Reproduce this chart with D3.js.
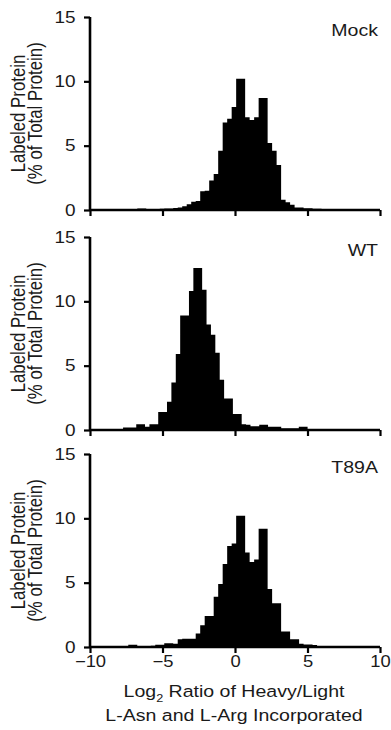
<!DOCTYPE html>
<html>
<head>
<meta charset="utf-8">
<script src="https://cdn.jsdelivr.net/npm/d3@7"></script>
<style>
  html, body { margin: 0; padding: 0; background: #fff; }
  svg { display: block; font-family: "Liberation Sans", Arial, sans-serif; }
</style>
</head>
<body>
<div class="chart"></div>
<script>
// ----------------------------------
// DATA
// ----------------------------------

// panel names, top to bottom
const panelNames = ['Mock', 'WT', 'T89A'];

// left edge of the first bin and bin width, in log2 units
const binStarts = [-7.98, -7.72, -7.98];
const binWidths = [0.31, 0.303, 0.31];

// % of total protein per bin
const mockValues = [0.03, 0.03, 0.05, 0.05, 0.12, 0.12, 0.05, 0.05, 0.08, 0.1,
  0.12, 0.12, 0.15, 0.2, 0.3, 0.45, 0.65, 0.7, 1.45, 1.5,
  2.3, 2.8, 4.6, 6.8, 7.1, 8.0, 10.2, 10.2, 7.2, 7.0,
  7.2, 8.7, 8.7, 5.2, 4.6, 3.5, 0.8, 0.6, 0.4, 0.2,
  0.2, 0.13, 0.13, 0.1, 0.1, 0.05, 0.05, 0.05, 0.03, 0.03];

const wtValues = [0.2, 0.2, 0.2, 0.45, 0.45, 0.25, 0.45, 0.45, 1.4, 1.4,
  2.2, 3.7, 5.9, 8.9, 8.9, 10.8, 12.6, 12.6, 10.9, 8.2,
  7.4, 6.0, 3.9, 2.45, 2.45, 1.25, 1.25, 0.45, 0.4, 0.3,
  0.3, 0.4, 0.4, 0.25, 0.25, 0.25, 0.13, 0.13, 0.13, 0.13,
  0.25, 0.25, 0.05, 0.05, 0.03, 0.03, 0.03];

const t89aValues = [0.03, 0.05, 0.18, 0.18, 0.05, 0.05, 0.05, 0.1, 0.18, 0.18,
  0.3, 0.3, 0.25, 0.6, 0.65, 0.65, 0.65, 1.05, 1.7, 2.4,
  2.4, 3.9, 4.9, 6.45, 7.85, 8.05, 10.2, 10.2, 7.35, 6.6,
  6.8, 9.2, 9.2, 4.5, 3.4, 3.4, 1.2, 1.2, 0.6, 0.6,
  0.25, 0.2, 0.2, 0.15, 0.05, 0.05, 0.05, 0.03, 0.03, 0.03];

const panelValues = [mockValues, wtValues, t89aValues];

// axis ticks
const xTicks = [-10, -5, 0, 5, 10];
const yTicks = [0, 5, 10, 15];
const xDomain = [-10, 10];
const yDomain = [0, 15];

// ----------------------------------
// LAYOUT
// ----------------------------------

const width = 391,
      height = 730,
      xLeft = 90,
      xRight = 380,
      panelTops = [17, 237, 454],
      panelHeight = 193,
      stretch = 1.15,   // the figure's type is a little wider than Arial
      ink = '#1a1a1a';

const svg = d3.select('.chart')
  .append('svg')
  .attr('width', width)
  .attr('height', height);

const xScale = d3.scaleLinear()
  .domain(xDomain)
  .range([xLeft, xRight]);

// small helper: a text sitting at (x,y), widened by `stretch`
function label(parent, x, y, anchor, size, str) {
  return parent.append('text')
    .attr('transform', `translate(${x},${y}) scale(${stretch},1)`)
    .attr('text-anchor', anchor)
    .attr('fill', ink)
    .style('font-size', size + 'px')
    .text(str);
}

panelNames.forEach((name, p) => {
  const top = panelTops[p],
        bottom = top + panelHeight,
        values = panelValues[p],
        start = binStarts[p],
        w = binWidths[p];

  const yScale = d3.scaleLinear()
    .domain(yDomain)
    .range([bottom, top]);

  const g = svg.append('g').attr('class', 'panel panel--' + name);

  // the histogram, drawn as one stepped shape so neighbouring bars don't seam
  const steps = values.map((v, i) => ({ x: start + i * w, y: v }));
  steps.push({ x: start + values.length * w, y: values[values.length - 1] });

  const area = d3.area()
    .curve(d3.curveStepAfter)
    .x(d => xScale(d.x))
    .y0(yScale(0))
    .y1(d => yScale(d.y));

  g.append('path')
    .datum(steps)
    .attr('d', area)
    .attr('fill', '#000');

  // y axis
  const yAxis = d3.axisLeft(yScale)
    .tickValues(yTicks)
    .tickFormat(d3.format('d'))
    .tickSize(6)
    .tickPadding(6.6);

  const yg = g.append('g')
    .attr('class', 'y axis')
    .attr('transform', `translate(${xLeft},0)`)
    .call(yAxis);

  // x axis, labels only on the last panel
  const xAxis = d3.axisBottom(xScale)
    .tickValues(xTicks)
    .tickSize(6)
    .tickPadding(3)
    .tickFormat(p === panelNames.length - 1 ? d3.format('d') : '');

  const xg = g.append('g')
    .attr('class', 'x axis')
    .attr('transform', `translate(0,${bottom})`)
    .call(xAxis);

  [yg, xg].forEach(ax => {
    ax.select('.domain')
      .attr('stroke', '#000')
      .attr('stroke-width', 2.6)
      .attr('d', ax === yg
        ? `M0,${top}V${bottom}`
        : `M${xLeft},0H${xRight}`);
    ax.selectAll('.tick line')
      .attr('stroke', '#000')
      .attr('stroke-width', 2.2);
    ax.selectAll('.tick text')
      .attr('fill', ink)
      .attr('transform', `scale(${stretch},1)`)
      .style('font-size', '16.5px')
      .style('font-family', '"Liberation Sans", Arial, sans-serif');
  });
  xg.selectAll('.tick text').style('font-size', '16px');

  // panel name, top right
  label(g, 378, top + 19, 'end', 17, name);

  // y axis title, two rotated lines
  const mid = top + panelHeight / 2;
  const yTitle = ['Labeled Protein', '(% of Total Protein)'];
  yTitle.forEach((line, i) => {
    g.append('text')
      .attr('transform', `translate(${25 + i * 16.5},${mid}) scale(${stretch},1) rotate(-90)`)
      .attr('text-anchor', 'middle')
      .attr('fill', ink)
      .style('font-size', '16.8px')
      .text(line);
  });
});

// ----------------------------------
// X AXIS TITLE
// ----------------------------------

const xMid = (xLeft + xRight) / 2;
const t1 = label(svg, xMid - 1, 697, 'middle', 17, null);
t1.append('tspan').text('Log');
t1.append('tspan').attr('dy', 5).style('font-size', '11px').text('2');
t1.append('tspan').attr('dy', -5).text(' Ratio of Heavy/Light');

label(svg, xMid - 1, 721, 'middle', 17, 'L-Asn and L-Arg Incorporated');
</script>
</body>
</html>
